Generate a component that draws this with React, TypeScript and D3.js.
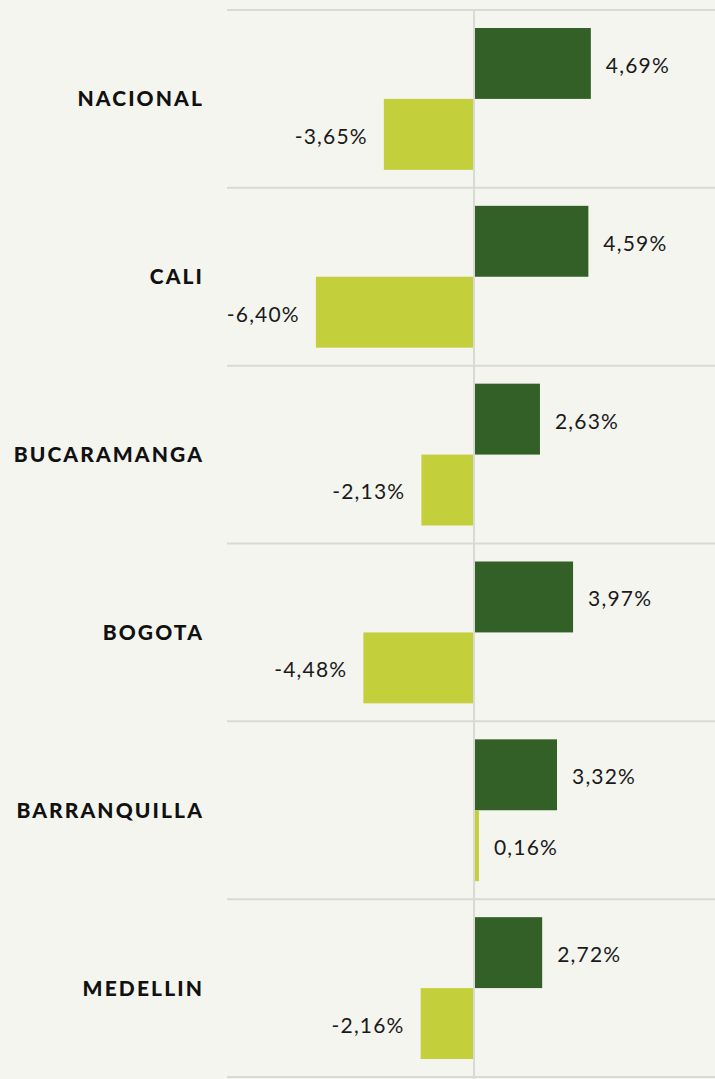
import React from "react";
import * as d3 from "d3";

const categories = ["NACIONAL", "CALI", "BUCARAMANGA", "BOGOTA", "BARRANQUILLA", "MEDELLIN"];
const seriesA = [4.69, 4.59, 2.63, 3.97, 3.32, 2.72];
const seriesB = [-3.65, -6.4, -2.13, -4.48, 0.16, -2.16];

const W = 715;
const H = 1079;
const BG = "#f5f5f0";
const DARK = "#336026";
const LIGHT = "#c3d03b";
const GRID = "#d9d9d6";
const FONT = "Lato, 'Open Sans', sans-serif";

const fmt = (v: number) => v.toFixed(2).replace(".", ",") + "%";

export default function App() {
  const x = d3.scaleLinear().domain([-10, 10]).range([227, 721]);
  const y = d3.scaleBand<string>().domain(categories).range([10, 1077]).paddingInner(0).paddingOuter(0);
  const bw = y.bandwidth();
  const pad = 18;
  const barH = (bw - 2 * pad) / 2;
  const x0 = x(0);

  return (
    <svg width={W} height={H} style={{ position: "absolute", left: 0, top: 0, background: BG, display: "block" }}>
      <rect x={0} y={0} width={W} height={H} fill={BG} />
      {categories.map((c) => (
        <line key={"g" + c} x1={227} x2={W} y1={y(c)!} y2={y(c)!} stroke={GRID} strokeWidth={2} />
      ))}
      <line x1={227} x2={W} y1={y.range()[1]} y2={y.range()[1]} stroke={GRID} strokeWidth={2} />
      {categories.map((c, i) => {
        const top = y(c)! + pad;
        const a = seriesA[i];
        const b = seriesB[i];
        const ax0 = Math.min(x(0), x(a));
        const bx0 = Math.min(x(0), x(b));
        return (
          <g key={c}>
            <rect x={ax0 + 1} y={top} width={Math.abs(x(a) - x0)} height={barH} fill={DARK} />
            <rect x={b >= 0 ? x0 + 1 : bx0} y={top + barH} width={Math.max(Math.abs(x(b) - x0), 3)} height={barH} fill={LIGHT} />
            <text
              x={a >= 0 ? x(a) + 16 : x(a) - 16}
              y={top + barH / 2}
              dy="0.45em"
              textAnchor={a >= 0 ? "start" : "end"}
              fontFamily={FONT}
              fontWeight={400}
              fontSize={21}
              letterSpacing={1.2}
              fill="#1a1a1a"
            >
              {fmt(a)}
            </text>
            <text
              x={b >= 0 ? Math.max(x(b), x0 + 3) + 16 : x(b) - 16}
              y={top + barH * 1.5}
              dy="0.45em"
              textAnchor={b >= 0 ? "start" : "end"}
              fontFamily={FONT}
              fontWeight={400}
              fontSize={21}
              letterSpacing={1.2}
              fill="#1a1a1a"
            >
              {fmt(b)}
            </text>
            <text
              x={204}
              y={y(c)! + bw / 2}
              dy="0.36em"
              textAnchor="end"
              fontFamily={FONT}
              fontWeight={900}
              fontSize={21}
              letterSpacing={2.1}
              fill="#111"
            >
              {c}
            </text>
          </g>
        );
      })}
      <line x1={x0} x2={x0} y1={10} y2={H} stroke={GRID} strokeWidth={2} />
    </svg>
  );
}
